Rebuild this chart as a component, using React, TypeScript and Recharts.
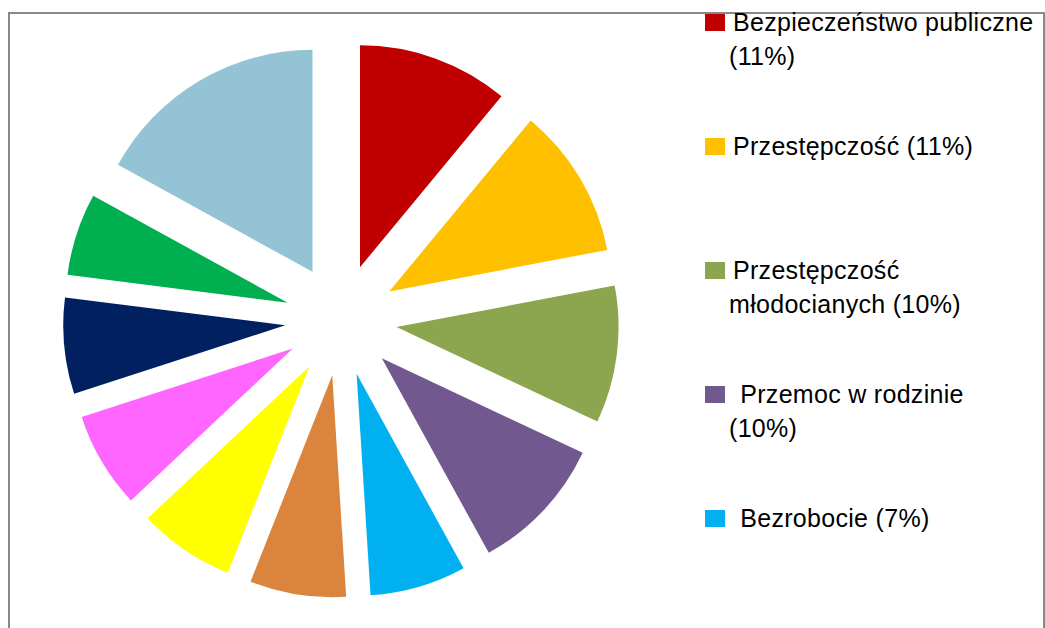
import { PieChart, Pie, Cell, Legend } from "recharts";

// slices clockwise from 12 o'clock
const categories = [
  "Bezpieczeństwo publiczne",
  "Przestępczość",
  "Przestępczość młodocianych",
  "Przemoc w rodzinie",
  "Bezrobocie",
  "Kategoria 6",
  "Kategoria 7",
  "Kategoria 8",
  "Kategoria 9",
  "Kategoria 10",
  "Kategoria 11",
];
const values = [11, 11, 10, 10, 7, 7, 7, 7, 7, 6, 17];
const colors = [
  "#C00000",
  "#FFC000",
  "#8BA64E",
  "#71588F",
  "#00B0F0",
  "#DB843D",
  "#FFFF00",
  "#FF66FF",
  "#002060",
  "#00B050",
  "#93C3D4",
];
// legend text as wrapped in the original (only the first five fit in the frame)
const legendLabels = [
  "Bezpieczeństwo publiczne\n(11%)",
  "Przestępczość (11%)",
  "Przestępczość\nmłodocianych (10%)",
  " Przemoc w rodzinie\n(10%)",
  " Bezrobocie (7%)",
];

const data = categories.map((name, i) => ({ name, value: values[i] }));

const EXPLODE = 56;
const total = values.reduce((a, b) => a + b, 0);
let acc = 0;
const shifts = values.map((v) => {
  const mid = ((acc + v / 2) / total) * 2 * Math.PI;
  acc += v;
  return `translate(${EXPLODE * Math.sin(mid)}, ${-EXPLODE * Math.cos(mid)})`;
});

const FONT = "'Liberation Sans', Arial, sans-serif";

const renderLegend = (props: any) => {
  const { payload = [] } = props;
  const colorOf = (name: string, i: number) => {
    const hit = payload.find((p: any) => p.value === name);
    return hit ? hit.color : colors[i];
  };
  return (
    <div style={{ position: "relative", width: 340, height: 620, fontFamily: FONT, fontSize: 25, color: "#000" }}>
      {legendLabels.map((label, i) => (
        <div key={i}>
          <div
            style={{
              position: "absolute",
              left: 0,
              top: 6 + i * 124,
              width: 20,
              height: 17,
              background: colorOf(categories[i], i),
            }}
          />
          <div
            style={{
              position: "absolute",
              left: 24,
              top: -3 + i * 124,
              lineHeight: "34px",
              whiteSpace: "pre",
              textIndent: 4,
              letterSpacing: 0.3,
            }}
          >
            {label}
          </div>
        </div>
      ))}
    </div>
  );
};

export default function App() {
  return (
    <div
      style={{
        position: "absolute",
        left: 8,
        top: 8,
        width: 1037,
        height: 620,
        overflow: "hidden",
        background: "#fff",
      }}
    >
      <div
        style={{
          position: "absolute",
          left: 0,
          top: 4,
          width: 1033,
          height: 700,
          border: "2px solid #888",
        }}
      />
      <PieChart width={1037} height={620} margin={{ top: 0, right: 0, bottom: 0, left: 0 }}>
        <Pie
          data={data}
          dataKey="value"
          nameKey="name"
          cx={333}
          cy={312}
          outerRadius={222}
          startAngle={90}
          endAngle={-270}
          stroke="none"
          isAnimationActive={false}
        >
          {data.map((d, i) => (
            <Cell key={d.name} fill={colors[i]} transform={shifts[i]} />
          ))}
        </Pie>
        <Legend
          layout="vertical"
          align="right"
          verticalAlign="top"
          content={renderLegend}
          wrapperStyle={{ left: 697, top: 0, width: 340, height: 620, overflow: "hidden" }}
        />
      </PieChart>
    </div>
  );
}
